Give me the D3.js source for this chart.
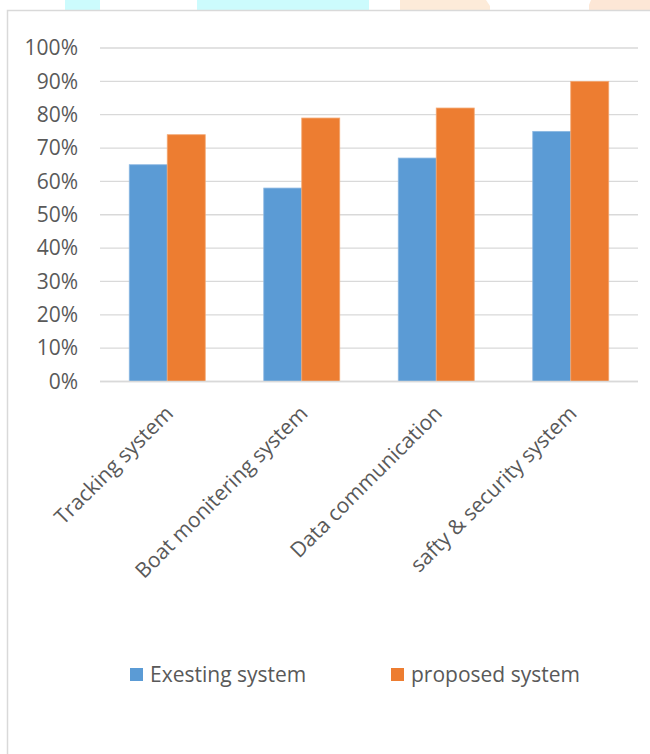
<!DOCTYPE html>
<html>
<head>
<meta charset="utf-8">
<script src="https://cdn.jsdelivr.net/npm/d3@7/dist/d3.min.js"></script>
<style>
  html, body { margin: 0; padding: 0; background: #ffffff; }
  svg { display: block; }
  text { font-family: "Open Sans", "DejaVu Sans", sans-serif; fill: #595959; }
</style>
</head>
<body>
<svg id="chart" width="650" height="754"></svg>
<script>
const categories = ["Tracking system", "Boat monitering system", "Data communication", "safty & security system"];
const seriesNames = ["Exesting system", "proposed system"];
const existingValues = [0.65, 0.58, 0.67, 0.75];
const proposedValues = [0.74, 0.79, 0.82, 0.90];
const yTicks = [0, 0.1, 0.2, 0.3, 0.4, 0.5, 0.6, 0.7, 0.8, 0.9, 1.0];
const seriesColors = ["#5b9bd5", "#ed7d31"];
const seriesStrokes = ["#8cb8e2", "#f3a772"];

const data = categories.map((c, i) => ({ category: c, values: [existingValues[i], proposedValues[i]] }));

const svg = d3.select("#chart");

// decorative page shapes peeking above the chart frame
const deco = [
  { pts: [[65,0],[100,0],[100,10],[65,10]], fill: "#ccfbfd" },
  { pts: [[197,0],[369,0],[369,10],[197,10]], fill: "#ccfbfd" },
  { pts: [[400,0],[486,0],[490,6],[490,10],[400,10]], fill: "#fdebd9" },
  { pts: [[591,0],[650,0],[650,10],[589,10],[589,5]], fill: "#fde7d6" }
];
svg.selectAll("polygon.deco").data(deco).join("polygon")
  .attr("class", "deco")
  .attr("points", d => d.pts.map(p => p.join(",")).join(" "))
  .attr("fill", d => d.fill);

// chart frame
svg.append("rect")
  .attr("x", 7.5).attr("y", 10.5)
  .attr("width", 720).attr("height", 800)
  .attr("fill", "#ffffff")
  .attr("stroke", "#d9d9d9").attr("stroke-width", 1.5);

const plotLeft = 100, plotRight = 638, plotTop = 48, plotBottom = 381.5;

const x0 = d3.scaleBand().domain(categories).range([plotLeft, plotRight]).padding(0);
const x1 = d3.scaleBand().domain(seriesNames).range([0, x0.bandwidth()]).paddingInner(0).paddingOuter(0.77);
const y = d3.scaleLinear().domain([0, 1]).range([plotBottom, plotTop]);

// gridlines
svg.append("g").selectAll("line").data(yTicks).join("line")
  .attr("x1", plotLeft).attr("x2", plotRight)
  .attr("y1", d => y(d)).attr("y2", d => y(d))
  .attr("stroke", "#d9d9d9").attr("stroke-width", 1.3);

// y axis labels
const yAxis = d3.axisLeft(y).tickValues(yTicks).tickFormat(d3.format(".0%")).tickSize(0).tickPadding(0);
const gy = svg.append("g").attr("transform", `translate(${plotLeft - 22},0)`).call(yAxis);
gy.select(".domain").remove();
gy.selectAll("text").attr("font-size", 21).attr("fill", "#595959")
  .style("font-family", "'Open Sans', sans-serif");

// bars
const groups = svg.append("g").selectAll("g").data(data).join("g")
  .attr("transform", d => `translate(${x0(d.category)},0)`);
groups.selectAll("rect").data(d => d.values.map((v, i) => ({ v, i }))).join("rect")
  .attr("x", d => x1(seriesNames[d.i]))
  .attr("width", x1.bandwidth())
  .attr("y", d => y(d.v))
  .attr("height", d => y(0) - y(d.v))
  .attr("fill", d => seriesColors[d.i])
  .attr("stroke", d => seriesStrokes[d.i])
  .attr("stroke-width", 0.8);

// baseline
svg.append("line")
  .attr("x1", plotLeft).attr("x2", plotRight)
  .attr("y1", y(0)).attr("y2", y(0))
  .attr("stroke", "#d9d9d9").attr("stroke-width", 1.5);

// x axis category labels
const xAxis = d3.axisBottom(x0).tickSize(0).tickPadding(0);
const gx = svg.append("g").attr("transform", `translate(0,${plotBottom})`).call(xAxis);
gx.select(".domain").remove();
gx.selectAll("text")
  .attr("font-size", 21)
  .attr("fill", "#595959")
  .style("font-family", "'Open Sans', sans-serif")
  .attr("text-anchor", "end")
  .attr("dy", "0.35em")
  .attr("y", 0)
  .attr("transform", "translate(2,28) rotate(-45)");

// legend
const legendItems = [
  { name: seriesNames[0], color: seriesColors[0], x: 130 },
  { name: seriesNames[1], color: seriesColors[1], x: 391 }
];
const lg = svg.append("g").selectAll("g").data(legendItems).join("g")
  .attr("transform", d => `translate(${d.x},668)`);
lg.append("rect").attr("width", 13).attr("height", 13).attr("fill", d => d.color);
lg.append("text").attr("x", 20).attr("y", 7).attr("dy", "0.35em")
  .attr("font-size", 21).attr("fill", "#595959").text(d => d.name);
</script>
</body>
</html>
